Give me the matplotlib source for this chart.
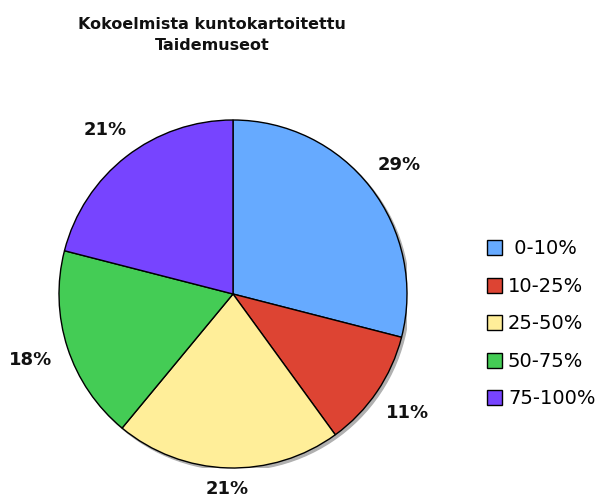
import numpy as np
import matplotlib.pyplot as plt
from matplotlib.patches import Circle

# data
categories = [' 0-10%', '10-25%', '25-50%', '50-75%', '75-100%']
values = [29, 11, 21, 18, 21]
colors = ['#66aaff', '#dd4433', '#ffee99', '#44cc55', '#7744ff']
title = "Kokoelmista kuntokartoitettu\nTaidemuseot"

W, H = 607, 500
fig = plt.figure(figsize=(W / 100, H / 100), dpi=100)

# pie centre ~(233, 294) px, radius ~174 px
cx, cy, r = 233, 294, 174
ax = fig.add_axes([(cx - r) / W, (H - cy - r) / H, 2 * r / W, 2 * r / H])

# soft shadow behind the pie
ax.add_patch(Circle((0.014, -0.014), 1.0, color='#b0b0b0', zorder=0))

wedges, texts, autotexts = ax.pie(
    values, colors=colors, startangle=90, counterclock=False,
    autopct='%d%%', pctdistance=1.2, radius=1.0,
    wedgeprops=dict(edgecolor='black', linewidth=1.0),
    textprops=dict(fontsize=13, fontweight='bold', color='#111111'))
for w in wedges:
    w.set_zorder(2)

# place labels just outside the rim, pushed out by half the text box
hw, hh = 25 / r, 8 / r
for w, t in zip(wedges, autotexts):
    a = np.deg2rad((w.theta1 + w.theta2) / 2)
    d = 1.07 + abs(np.cos(a)) * hw + abs(np.sin(a)) * hh
    t.set_position((d * np.cos(a), d * np.sin(a)))
    t.set_zorder(3)

ax.set_xlim(-1, 1)
ax.set_ylim(-1, 1)
ax.set_aspect('auto')
ax.axis('off')

fig.text(212 / W, 1 - 35 / H, title, ha='center', va='center',
         fontsize=11.5, fontweight='bold', color='#111111', linespacing=1.5)

leg = fig.legend(wedges, categories, loc='upper left',
                 bbox_to_anchor=(469 / W, 1 - 222 / H), frameon=False,
                 fontsize=14, handlelength=0.8, handleheight=0.8,
                 handletextpad=0.3, labelspacing=0.95)
for h in leg.legend_handles:
    h.set_edgecolor('black')
    h.set_linewidth(1.0)

fig.savefig('out.png', dpi=100)
